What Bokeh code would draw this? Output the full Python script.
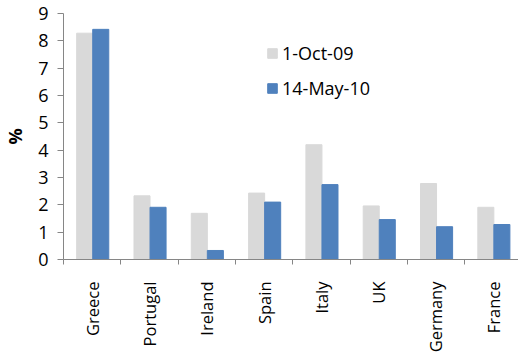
import numpy as np
from bokeh.plotting import figure
from bokeh.models import (ColumnDataSource, Range1d, FixedTicker, Legend, LegendItem)
from bokeh.transform import dodge
from bokeh.embed import file_html
from bokeh.resources import INLINE

# 10-year government bond spreads by country, two dates
countries = ["Greece", "Portugal", "Ireland", "Spain", "Italy", "UK", "Germany", "France"]
oct_2009 = [8.28, 2.33, 1.69, 2.43, 4.20, 1.96, 2.78, 1.91]
may_2010 = [8.42, 1.91, 0.33, 2.10, 2.74, 1.46, 1.20, 1.28]
series_labels = ["1-Oct-09", "14-May-10"]
y_ticks = list(range(0, 10))

FONT = "Open Sans"
GREY = "#D9D9D9"
BLUE = "#4F81BD"
AXIS = "#868686"

centers = np.arange(len(countries)) + 0.5
source = ColumnDataSource(dict(x=centers, country=countries, a=oct_2009, b=may_2010))

p = figure(frame_width=455, frame_height=246, output_backend="svg", toolbar_location=None,
           x_range=Range1d(0, 7.94), y_range=Range1d(0, 9),
           min_border_left=63, min_border_right=0, min_border_top=13,
           min_border_bottom=94)
p.outline_line_color = None
p.xgrid.grid_line_color = None
p.ygrid.grid_line_color = None

bw = 0.28
r1 = p.vbar(x=dodge("x", -0.13, range=p.x_range), top="a", width=bw, source=source,
            fill_color=GREY, line_color=GREY)
r2 = p.vbar(x=dodge("x", 0.15, range=p.x_range), top="b", width=bw, source=source,
            fill_color=BLUE, line_color=BLUE)

# x axis: labels at category centres, tick marks between categories
xa = p.xaxis[0]
xa.ticker = FixedTicker(ticks=list(centers), minor_ticks=list(range(0, len(countries) + 1)))
xa.major_label_overrides = {float(c): n for c, n in zip(centers, countries)}
xa.major_label_orientation = np.pi / 2
xa.major_tick_out = 0
xa.major_tick_in = 0
xa.minor_tick_out = 5
xa.minor_tick_in = 0
xa.minor_tick_line_color = AXIS
xa.axis_line_color = AXIS
xa.major_label_standoff = 17
xa.major_label_text_font = FONT
xa.major_label_text_font_size = "16.5px"
xa.major_label_text_color = "#000000"

ya = p.yaxis[0]
ya.ticker = FixedTicker(ticks=y_ticks)
ya.minor_tick_line_color = None
ya.major_tick_out = 6
ya.major_tick_in = 0
ya.major_tick_line_color = AXIS
ya.axis_line_color = AXIS
ya.major_label_standoff = 9
ya.major_label_text_font = FONT
ya.major_label_text_font_size = "18px"
ya.major_label_text_color = "#000000"
ya.axis_label = "%"
ya.axis_label_text_font = FONT
ya.axis_label_text_font_size = "18px"
ya.axis_label_text_font_style = "bold"
ya.axis_label_text_color = "#000000"
ya.axis_label_standoff = 8

legend = Legend(items=[LegendItem(label=series_labels[0], renderers=[r1]),
                       LegendItem(label=series_labels[1], renderers=[r2])],
                location=(203, 159), padding=0, margin=0, spacing=11,
                glyph_width=12, glyph_height=12, label_standoff=4,
                label_text_font=FONT, label_text_font_size="18px",
                label_text_color="#000000",
                border_line_color=None, background_fill_alpha=0)
p.add_layout(legend, "center")

open("out.html", "w").write(file_html(p, INLINE))
